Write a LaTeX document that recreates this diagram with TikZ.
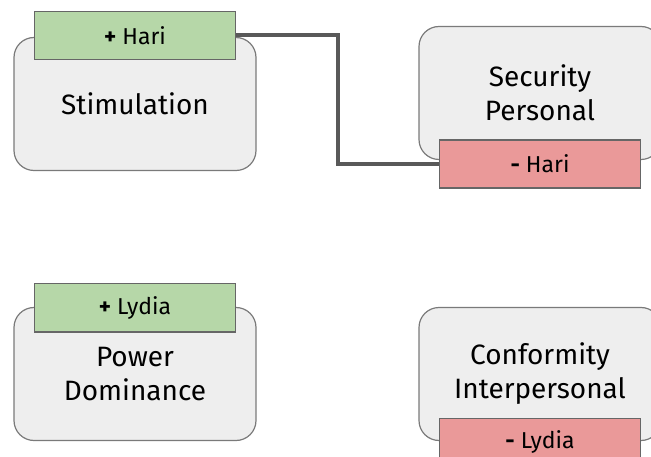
\documentclass[tikz,border=0pt]{standalone}
\usepackage{fontspec}
\setmainfont{Fira Sans}
\usepackage{tikz}
\usetikzlibrary{positioning}
\definecolor{boxfill}{HTML}{EEEEEE}
\definecolor{boxline}{HTML}{7A7A7A}
\definecolor{tagline}{HTML}{666666}
\definecolor{plusfill}{HTML}{B6D7A8}
\definecolor{minusfill}{HTML}{EA9999}
\definecolor{linkgray}{HTML}{595959}

\begin{document}
\begin{tikzpicture}[
  x=1pt, y=-1pt,
  value/.style={draw=boxline, fill=boxfill, line width=1.2pt, rounded corners=20pt,
    minimum width=242pt, minimum height=133pt, inner sep=0pt, align=center,
    font=\fontsize{28}{34}\selectfont},
  tag/.style={draw=tagline, line width=1.2pt, minimum width=201pt, minimum height=48pt,
    inner sep=0pt, font=\fontsize{23}{26}\selectfont},
  plus/.style={tag, fill=plusfill},
  minus/.style={tag, fill=minusfill},
  link/.style={draw=linkgray, line width=4pt}
]
  \clip (0,0) rectangle (651,457);

  \node[value] (stim) at (135,104) {Stimulation};
  \node[value] (sec)  at (540,93)  {Security\\Personal};
  \node[value] (pow)  at (135,374) {Power\\Dominance};
  \node[value] (conf) at (540,374) {Conformity\\Interpersonal};

  \node[plus]  (stimhari)  at ([yshift=1.5pt]stim.north) {\textbf{+} Hari};
  \node[minus] (sechari)   at ([yshift=-4pt]sec.south)   {\textbf{-} Hari};
  \node[plus]  (powlydia)  at ([yshift=-1pt]pow.north)   {\textbf{+} Lydia};
  \node[minus] (conflydia) at ([yshift=-1pt]conf.south)  {\textbf{-} Lydia};

  \draw[link] (stimhari.east) -- ++(102,0) |- (sechari.west);
\end{tikzpicture}
\end{document}
